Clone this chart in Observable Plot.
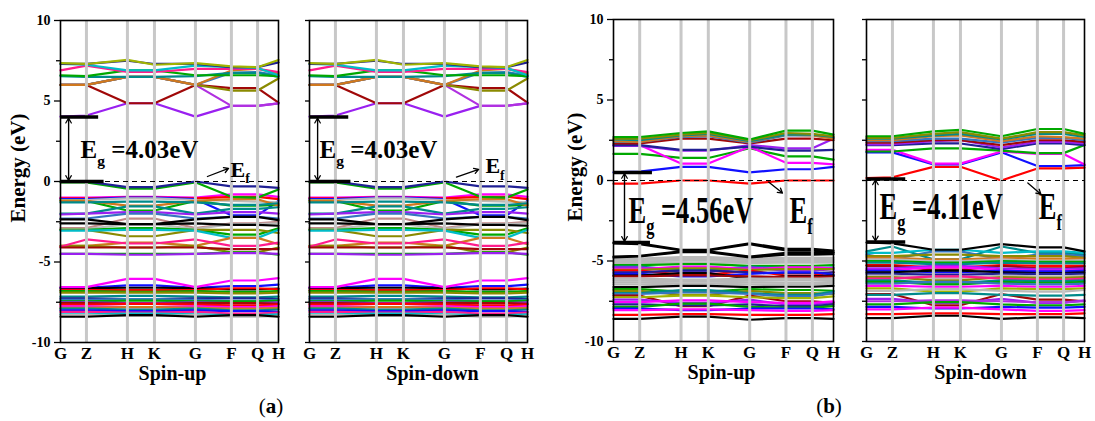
<!DOCTYPE html>
<html><head><meta charset="utf-8">
<script src="https://cdn.jsdelivr.net/npm/d3@7"></script>
<script src="https://cdn.jsdelivr.net/npm/@observablehq/plot@0.6"></script>
<style>
body{margin:0;background:#fff;}
#fig{position:relative;width:1095px;height:421px;overflow:hidden;font-family:"Liberation Serif",serif;background:#fff;}
.panel{position:absolute;top:0;}
.tag{position:absolute;top:394px;font-size:21px;transform:translateX(-50%);font-family:"Liberation Serif",serif;}
.ylab{position:absolute;font-weight:bold;font-size:21px;white-space:nowrap;line-height:1;transform:translate(-50%,-50%) rotate(-90deg);font-family:"Liberation Serif",serif;}
</style></head><body>
<div id="fig"></div>
<script>
// k-path (fractional distance along path) and labels
const kPos = [0, 0.119, 0.307, 0.431, 0.619, 0.784, 0.904, 1];
const kLabels = ["G","Z","H","K","G","F","Q","H"];

// Origin-style colour keys
const palette = {K:"#000000",R:"#ff0000",G:"#00a800",B:"#1010ff",C:"#00bcc8",M:"#ff00ff",O:"#8a8a00",
  N:"#202094",P:"#9a20f0",W:"#a00808",D:"#008a8a",Y:"#3575c0",A:"#d0781e",V:"#b030e0",I:"#ff1c8c",
  S:"#b8b8b8",L:"#a0b400",E:"#c08888"};

// ---------- (a) energies at G Z H K G F Q H (eV); spin-up and spin-down identical ----------
const condA = [
 [4.03,4.1,4.86,4.86,4.03,4.7,4.7,4.85],
 [6.0,6.0,4.86,4.86,6.0,5.8,5.8,4.9],
 [6.0,6.0,6.5,6.5,6.0,4.7,4.7,4.85],
 [6.0,6.0,6.5,6.5,6.0,5.65,5.65,6.4],
 [6.0,6.0,6.5,6.5,6.0,6.75,6.8,6.6],
 [6.0,6.0,6.5,6.5,6.0,6.9,7.0,6.7],
 [6.55,6.5,6.5,6.5,6.55,6.75,6.75,6.5],
 [6.6,6.55,6.9,6.9,6.6,6.6,6.6,6.55],
 [6.9,7.2,6.8,6.8,7.0,7.0,7.0,6.8],
 [7.3,7.25,6.9,6.9,7.2,7.1,7.05,6.6],
 [7.3,7.3,7.5,7.3,7.3,7.1,7.1,7.4],
 [7.35,7.3,7.55,7.25,7.35,7.15,7.1,7.55]
];
const condAColors = ["P","W","V","O","Y","A","D","G","I","C","N","L"];

const valA = [
 [-1.0,-1.0,-0.95,-0.95,-1.0,-0.8,-0.8,-0.95],
 [-1.05,-1.05,-1.0,-1.0,-1.05,-0.95,-0.95,-1.1],
 [-1.1,-1.1,-1.0,-1.0,-1.1,-2.1,-2.1,-1.2],
 [-1.15,-1.15,-1.05,-1.05,-1.15,-1.2,-1.25,-1.3],
 [-1.2,-1.2,-1.8,-1.8,-1.2,-1.5,-1.5,-1.45],
 [-1.2,-1.2,-1.5,-1.5,-1.2,-1.1,-1.1,-1.5],
 [-1.3,-1.3,-1.25,-1.25,-1.3,-1.45,-1.45,-1.35],
 [-2.0,-2.0,-1.55,-1.55,-2.0,-1.7,-1.7,-1.6],
 [-2.05,-2.0,-1.9,-1.9,-2.05,-1.9,-1.9,-2.0],
 [-2.3,-2.3,-2.0,-2.0,-2.3,-2.2,-2.2,-2.3],
 [-2.9,-2.9,-2.3,-2.3,-2.9,-2.6,-2.6,-2.5],
 [-2.95,-2.95,-2.65,-2.65,-2.95,-2.65,-2.65,-2.6],
 [-2.6,-2.6,-2.65,-2.65,-2.6,-2.7,-2.7,-2.75],
 [-2.35,-2.35,-2.65,-2.65,-2.35,-2.2,-2.2,-2.4],
 [-3.0,-3.0,-2.9,-2.9,-3.0,-3.3,-3.3,-2.9],
 [-3.0,-3.0,-3.4,-3.4,-3.0,-3.0,-3.0,-3.2],
 [-3.05,-3.05,-3.0,-3.0,-3.05,-3.5,-3.5,-3.0],
 [-4.0,-4.0,-3.8,-3.8,-4.0,-3.5,-3.5,-3.9],
 [-4.0,-4.0,-4.1,-4.1,-4.0,-4.4,-4.4,-4.1],
 [-4.05,-3.6,-3.85,-3.85,-3.6,-4.0,-4.0,-3.8],
 [-4.1,-4.1,-4.1,-4.1,-4.1,-4.2,-4.2,-4.2],
 [-4.5,-4.5,-4.5,-4.5,-4.5,-4.4,-4.4,-4.55],
 [-4.5,-4.5,-4.55,-4.55,-4.5,-4.45,-4.45,-4.5],
 [-0.05,-0.05,-0.45,-0.45,-0.05,-0.95,-1.0,-0.5],
 [0,0,-0.35,-0.35,0,-0.3,-0.3,-0.4]
];
const valAColors = ["M","R","B","S","G","A","D","D","P","Y","E","S","K","K","G","O","C","A","O","I","W","G","P","G","N"];

const deepA = [
 [-6.6,-6.6,-6.45,-6.45,-6.6,-6.5,-6.5,-6.4],
 [-6.62,-6.62,-6.6,-6.6,-6.62,-6.7,-6.7,-6.65],
 [-6.75,-6.75,-6.75,-6.75,-6.75,-6.63,-6.63,-6.7],
 [-6.8,-6.8,-6.85,-6.85,-6.8,-6.85,-6.85,-6.8],
 [-6.9,-6.9,-6.9,-6.9,-6.9,-6.95,-6.95,-6.9],
 [-7.15,-7.15,-7.1,-7.1,-7.15,-7.2,-7.2,-7.15],
 [-7.25,-7.25,-7.3,-7.3,-7.25,-7.25,-7.25,-7.3],
 [-7.35,-7.35,-7.3,-7.3,-7.35,-7.4,-7.4,-7.35],
 [-7.45,-7.45,-7.4,-7.4,-7.45,-7.45,-7.45,-7.4],
 [-7.5,-7.5,-7.55,-7.55,-7.5,-7.55,-7.55,-7.5],
 [-7.55,-7.55,-7.6,-7.6,-7.55,-7.55,-7.55,-7.6],
 [-7.65,-7.65,-7.6,-7.6,-7.65,-7.7,-7.7,-7.65],
 [-7.75,-7.75,-7.8,-7.8,-7.75,-7.8,-7.8,-7.75],
 [-7.85,-7.85,-7.8,-7.8,-7.85,-7.9,-7.9,-7.85],
 [-7.9,-7.9,-7.95,-7.95,-7.9,-8.0,-8.0,-7.95],
 [-8.0,-8.0,-8.05,-8.05,-8.0,-8.05,-8.05,-8.1],
 [-8.1,-8.1,-8.15,-8.15,-8.1,-8.2,-8.2,-8.15],
 [-8.25,-8.25,-8.2,-8.2,-8.25,-8.3,-8.3,-8.25],
 [-8.3,-8.3,-8.35,-8.35,-8.3,-8.4,-8.4,-8.35],
 [-8.4,-8.4,-8.3,-8.3,-8.4,-8.3,-8.3,-8.4],
 [-6.56,-6.56,-6.05,-6.05,-6.56,-6.15,-6.15,-6.0]
];
const deepAColors = ["B","K","R","G","O","D","N","Y","G","P","W","R","M","A","D","B","I","C","S","K","M"];

// ---------- (b) spin-up ----------
const condBU = [
 [-0.2,-0.2,0.0,0.0,-0.2,0.0,0.0,0.0],
 [0.5,0.55,0.85,0.85,0.5,0.7,0.7,0.85],
 [1.65,1.65,1.4,1.4,2.0,1.5,1.5,1.3],
 [2.2,2.2,1.05,1.05,2.1,1.1,1.1,1.0],
 [2.15,2.15,1.85,1.85,2.2,2.0,2.0,2.6],
 [2.2,2.2,1.9,1.9,2.1,1.85,1.85,1.9],
 [2.3,2.3,2.6,2.6,2.3,2.6,2.6,2.5],
 [2.4,2.4,2.7,2.75,2.35,2.8,2.8,2.65],
 [2.45,2.4,2.75,2.8,2.4,2.85,2.8,2.6],
 [2.55,2.5,2.8,2.9,2.45,2.85,2.85,2.7],
 [2.6,2.6,2.85,2.95,2.5,2.95,2.9,2.75],
 [2.7,2.7,2.95,3.05,2.55,3.1,3.1,2.85]
];
const condBUColors = ["R","B","G","M","P","N","W","Y","A","D","O","G"];

const valBU = [
 [-4.85,-4.85,-4.75,-4.75,-4.85,-4.8,-4.8,-4.8],
 [-4.95,-4.95,-4.85,-4.85,-4.95,-4.9,-4.9,-4.9],
 [-5.05,-5.05,-4.95,-4.95,-5.05,-5.0,-5.0,-5.0],
 [-5.12,-5.12,-5.08,-5.08,-5.12,-5.1,-5.1,-5.1],
 [-5.25,-5.25,-5.2,-5.2,-5.3,-5.3,-5.3,-5.25],
 [-5.35,-5.35,-5.55,-5.55,-5.35,-5.45,-5.45,-5.4],
 [-5.4,-5.4,-5.7,-5.7,-5.4,-5.6,-5.6,-5.5],
 [-5.5,-5.5,-5.35,-5.35,-5.5,-5.4,-5.4,-5.45],
 [-5.55,-5.55,-5.45,-5.45,-5.55,-5.5,-5.5,-5.5],
 [-5.6,-5.6,-5.85,-5.85,-5.6,-5.9,-5.9,-5.7],
 [-5.7,-5.7,-5.6,-5.6,-5.7,-5.75,-5.75,-5.7],
 [-5.8,-5.8,-5.95,-5.95,-5.8,-5.7,-5.7,-5.85],
 [-5.9,-5.9,-5.75,-5.75,-6.1,-5.95,-5.95,-5.9],
 [-5.95,-5.95,-5.9,-5.9,-5.95,-6.0,-6.0,-5.95],
 [-6.1,-6.1,-6.15,-6.15,-6.1,-6.1,-6.1,-6.1],
 [-6.2,-6.2,-6.22,-6.22,-6.2,-6.2,-6.2,-6.2],
 [-6.32,-6.32,-6.28,-6.28,-6.32,-6.35,-6.35,-6.3],
 [-6.45,-6.45,-6.4,-6.4,-6.45,-6.45,-6.45,-6.4],
 [-6.62,-6.62,-6.55,-6.55,-6.62,-6.6,-6.6,-6.55],
 [-6.75,-6.75,-6.9,-6.9,-6.75,-6.8,-6.8,-6.85],
 [-6.85,-6.85,-7.1,-7.1,-6.85,-7.0,-7.0,-7.05],
 [-7.0,-7.0,-6.8,-6.8,-7.0,-7.1,-7.1,-6.9],
 [-7.05,-7.05,-6.95,-6.95,-7.05,-7.2,-7.2,-7.0],
 [-7.15,-7.15,-7.8,-7.8,-7.15,-7.5,-7.5,-7.6],
 [-7.25,-7.25,-7.15,-7.15,-7.25,-7.3,-7.3,-7.2],
 [-7.4,-7.4,-7.6,-7.6,-7.4,-7.7,-7.7,-7.55],
 [-7.55,-7.55,-7.45,-7.45,-7.55,-7.6,-7.6,-7.5],
 [-7.7,-7.7,-7.75,-7.75,-7.7,-7.8,-7.8,-7.7],
 [-7.85,-7.85,-7.65,-7.65,-7.85,-7.9,-7.9,-7.8],
 [-7.95,-7.95,-8.05,-8.05,-7.95,-7.95,-7.95,-8.0],
 [-8.05,-8.05,-8.0,-8.0,-8.05,-8.1,-8.1,-8.05],
 [-8.35,-8.35,-8.3,-8.3,-8.35,-8.35,-8.35,-8.3],
 [-8.6,-8.6,-8.45,-8.45,-8.65,-8.55,-8.55,-8.6],
 [-3.85,-3.9,-4.3,-4.3,-3.9,-4.25,-4.25,-4.35],
 [-3.9,-3.95,-4.35,-4.35,-3.95,-4.35,-4.35,-4.45],
 [-4.72,-4.68,-4.4,-4.4,-4.72,-4.5,-4.5,-4.5],
 [-4.78,-4.72,-4.45,-4.45,-4.78,-4.6,-4.6,-4.58]
];
const valBUColors = ["S","S","S","S","G","D","P","M","O","R","N","B","K","W","S","S","S","S","K",
  "G","O","D","Y","W","L","P","M","N","G","B","M","R","K","K","K","K","K"];

// ---------- (b) spin-down ----------
const condBD = [
 [0.15,0.2,0.85,0.85,0.0,0.75,0.75,0.8],
 [1.75,1.75,1.0,1.0,1.75,0.9,0.9,0.95],
 [1.9,1.9,1.05,1.05,1.8,1.65,1.65,1.0],
 [1.8,1.8,2.0,2.0,1.85,1.7,1.7,2.2],
 [2.2,2.2,2.3,2.3,1.95,2.3,2.3,2.2],
 [2.25,2.25,2.45,2.5,2.05,2.4,2.4,2.3],
 [2.35,2.35,2.5,2.5,2.2,2.5,2.5,2.4],
 [2.45,2.45,2.6,2.6,2.35,2.65,2.65,2.5],
 [2.5,2.5,2.75,2.8,2.45,2.75,2.7,2.6],
 [2.6,2.6,2.8,2.9,2.55,2.9,2.9,2.7],
 [2.65,2.65,2.9,3.0,2.6,3.0,3.0,2.8],
 [2.75,2.75,3.05,3.15,2.75,3.2,3.2,2.9]
];
const condBDColors = ["R","B","M","G","N","P","W","Y","A","D","O","G"];

const valBD = [
 [-4.4,-4.1,-4.9,-4.9,-4.1,-4.5,-4.5,-4.6],
 [-4.5,-4.5,-4.3,-4.3,-4.5,-4.4,-4.4,-4.5],
 [-4.6,-4.9,-4.4,-4.4,-4.9,-4.6,-4.6,-4.7],
 [-4.7,-4.7,-4.6,-4.6,-4.7,-4.7,-4.7,-4.8],
 [-4.8,-4.8,-4.9,-4.9,-4.8,-4.85,-4.85,-4.85],
 [-4.9,-4.9,-5.0,-5.0,-4.9,-5.0,-5.0,-4.95],
 [-5.0,-5.0,-5.1,-5.1,-5.0,-5.05,-5.05,-5.05],
 [-5.1,-5.1,-5.2,-5.2,-5.1,-5.15,-5.15,-5.15],
 [-5.25,-5.25,-5.4,-5.4,-5.25,-5.3,-5.3,-5.3],
 [-5.3,-5.3,-5.55,-5.55,-5.3,-5.45,-5.45,-5.35],
 [-5.45,-5.45,-5.3,-5.3,-5.45,-5.5,-5.5,-5.45],
 [-5.55,-5.55,-5.4,-5.4,-5.55,-5.6,-5.6,-5.55],
 [-5.6,-5.6,-5.7,-5.7,-5.6,-5.65,-5.65,-5.6],
 [-5.7,-5.7,-5.6,-5.6,-5.7,-5.75,-5.75,-5.7],
 [-5.8,-5.8,-5.85,-5.85,-5.8,-5.8,-5.8,-5.8],
 [-5.9,-5.9,-6.05,-6.05,-5.9,-5.95,-5.95,-5.9],
 [-6.0,-6.0,-6.2,-6.2,-6.0,-6.05,-6.05,-6.0],
 [-6.1,-6.1,-5.95,-5.95,-6.1,-6.15,-6.15,-6.1],
 [-6.2,-6.2,-6.35,-6.35,-6.2,-6.25,-6.25,-6.2],
 [-6.3,-6.3,-6.45,-6.45,-6.3,-6.35,-6.35,-6.3],
 [-6.4,-6.4,-6.3,-6.3,-6.4,-6.45,-6.45,-6.4],
 [-6.55,-6.55,-6.6,-6.6,-6.55,-6.6,-6.6,-6.55],
 [-6.7,-6.7,-6.9,-6.9,-6.7,-6.75,-6.75,-6.7],
 [-6.85,-6.85,-6.75,-6.75,-6.85,-6.9,-6.9,-6.8],
 [-7.05,-7.05,-7.75,-7.75,-7.05,-7.4,-7.4,-7.5],
 [-7.1,-7.1,-7.0,-7.0,-7.1,-7.15,-7.15,-7.1],
 [-7.35,-7.35,-7.6,-7.6,-7.35,-7.6,-7.6,-7.45],
 [-7.5,-7.5,-7.45,-7.45,-7.5,-7.55,-7.55,-7.5],
 [-7.7,-7.7,-7.55,-7.55,-7.7,-7.75,-7.75,-7.7],
 [-7.85,-7.85,-7.95,-7.95,-7.85,-7.9,-7.9,-7.85],
 [-8.0,-8.0,-7.9,-7.9,-8.0,-8.1,-8.1,-8.05],
 [-8.3,-8.3,-8.25,-8.25,-8.3,-8.3,-8.3,-8.25],
 [-8.55,-8.55,-8.4,-8.4,-8.6,-8.5,-8.5,-8.55],
 [-3.85,-3.9,-4.3,-4.3,-3.95,-4.15,-4.15,-4.4]
];
const valBDColors = ["D","C","Y","O","A","S","G","D","R","W","P","M","B","K","N","S","O","I","D","G","Y","M",
  "L","S","W","D","P","V","G","B","M","R","K","K"];

// gap annotations (band-edge markers, eV)
const gapAUp = {cbm: 4.0, vbm: 0, label: "E_g =4.03eV"};
const gapADown = {cbm: 4.0, vbm: 0, label: "E_g =4.03eV"};
const gapBUp = {cbm: 0.5, vbm: -3.85, label: "E_g =4.56eV"};
const gapBDown = {cbm: 0.1, vbm: -3.82, label: "E_g =4.11eV"};
const yTicksMajor = [-10, -5, 0, 5, 10];
const yTicksMinor = [-7.5, -2.5, 2.5, 7.5];

const panels = [
 {left:0, width:290, mL:60, mR:12, mT:20, mB:58, yLabels:true, yLabelX:18, spin:"Spin-up", spinDx:3,
  groups:[[deepA,deepAColors],[valA,valAColors],[condA,condAColors]], gap:gapAUp, stretch:1,
  L:{barTop:0.175, barBot:0.2, arrowX:0.037, egX:0.092, egY:1.45, egSize:25, efX:0.78, efY:0.3, efSize:22, efArrow:[0.674,0.31,0.771,0.81]}},
 {left:297, width:242, mL:12, mR:12, mT:20, mB:58, yLabels:false, spin:"Spin-down", spinDx:14,
  groups:[[deepA,deepAColors],[valA,valAColors],[condA,condAColors]], gap:gapADown, stretch:1,
  L:{barTop:0.18, barBot:0.19, arrowX:0.037, egX:0.046, egY:1.45, egSize:25, efX:0.807, efY:0.5, efSize:22, efArrow:[0.674,0.27,0.776,0.75]}},
 {left:553, width:292, mL:60, mR:12, mT:19, mB:59, yLabels:true, yLabelX:575, spin:"Spin-up", spinDx:-2,
  groups:[[valBU,valBUColors],[condBU,condBUColors]], gap:gapBUp, stretch:1.4,
  L:{barTop:0.177, barBot:0.168, arrowX:0.05, egX:0.068, egY:-2.65, egSize:26.5, efX:0.8, efY:-2.65, efSize:26.5, efArrow:[0.705,-0.1,0.768,-0.78]}},
 {left:854, width:241, mL:12, mR:11, mT:19, mB:59, yLabels:false, spin:"Spin-down", spinDx:5,
  groups:[[valBD,valBDColors],[condBD,condBDColors]], gap:gapBDown, stretch:1.4,
  L:{barTop:0.18, barBot:0.18, arrowX:0.041, egX:0.06, egY:-2.4, egSize:26.5, efX:0.79, efY:-2.4, efSize:26.5, efArrow:[0.74,-0.15,0.8,-0.85]}}
];

const fig = document.getElementById("fig");

function subscripts(svg, stretch) {
  d3.select(svg).selectAll("text").each(function() {
    const s = this.textContent;
    const i = s.indexOf("_");
    if (i < 0) return;
    const fs = parseFloat(this.parentNode.getAttribute("font-size")) || 24;
    const el = d3.select(this);
    el.text(null);
    el.append("tspan").text(s.slice(0, i));
    el.append("tspan").attr("font-size", fs * 0.62).attr("dy", fs * 0.3).text(s[i + 1]);
    const tail = s.slice(i + 2);
    if (tail) el.append("tspan").attr("dy", -fs * 0.3).text(tail);
    if (stretch !== 1) {
      const t = el.attr("transform") || "";
      el.attr("transform", t + ` scale(1,${stretch})`);
    }
  });
}

panels.forEach(p => {
  const rows = [];
  p.groups.forEach(([bands, cols], g) => bands.forEach((b, j) => b.forEach((e, i) =>
    rows.push({band: g * 100 + j, k: kPos[i], e, c: palette[cols[j]]}))));
  const L = p.L, gap = p.gap;
  const marks = [
    Plot.line(rows, {x: "k", y: "e", z: "band", stroke: "c", strokeWidth: 2.2, strokeLinejoin: "round"}),
    Plot.ruleX(kPos.slice(1, -1), {stroke: "#c8c8c8", strokeWidth: 3}),
    Plot.ruleY([0], {stroke: "#000", strokeWidth: 1.2, strokeDasharray: "5,4"}),
    Plot.ruleY([gap.cbm], {x1: 0, x2: L.barTop, stroke: "#000", strokeWidth: 3.5}),
    Plot.ruleY([gap.vbm], {x1: 0, x2: L.barBot, stroke: "#000", strokeWidth: 3.5}),
    Plot.arrow([gap], {x1: L.arrowX, x2: L.arrowX, y1: "cbm", y2: "vbm", headLength: 7, strokeWidth: 1.2, insetEnd: 1}),
    Plot.arrow([gap], {x1: L.arrowX, x2: L.arrowX, y1: "vbm", y2: "cbm", headLength: 7, strokeWidth: 1.2, insetEnd: 1}),
    Plot.arrow([gap], {x1: L.efArrow[0], y1: L.efArrow[1], x2: L.efArrow[2], y2: L.efArrow[3], headLength: 6, strokeWidth: 1.3}),
    Plot.text([gap.label], {x: L.egX, y: L.egY, text: d => d, textAnchor: "start", lineAnchor: "bottom", fontSize: L.egSize, fontWeight: "bold"}),
    Plot.text(["E_f"], {x: L.efX, y: L.efY, text: d => d, textAnchor: "start", lineAnchor: "bottom", fontSize: L.efSize, fontWeight: "bold"}),
    Plot.frame({stroke: "#000", strokeWidth: 1.6}),
    Plot.axisX({ticks: kPos, tickFormat: d => kLabels[kPos.indexOf(d)], tickSize: 0, tickPadding: 4, fontSize: 17, fontWeight: "bold", label: null}),
    Plot.text([p.spin], {frameAnchor: "bottom", dy: 37, dx: p.spinDx, fontSize: 20, fontWeight: "bold", text: d => d}),
  ];
  if (p.yLabels) {
    marks.push(
      Plot.axisY({ticks: yTicksMajor, tickSize: 6, tickPadding: 4, tickFormat: d => String(d), fontSize: 14, fontWeight: "bold", label: null, strokeWidth: 1.3}),
      Plot.axisY({ticks: yTicksMinor, tickSize: 4, tickFormat: () => "", label: null, strokeWidth: 1.3})
    );
  } else {
    marks.push(Plot.axisY({ticks: yTicksMajor.concat(yTicksMinor), tickSize: 4, tickFormat: () => "", label: null, strokeWidth: 1.3}));
  }
  const svg = Plot.plot({
    width: p.width, height: 400,
    marginLeft: p.mL, marginRight: p.mR, marginTop: p.mT, marginBottom: p.mB,
    x: {domain: [0, 1]}, y: {domain: [-10, 10]},
    style: {fontFamily: "'Liberation Serif', serif", fontWeight: "bold", background: "transparent", overflow: "visible"},
    marks
  });
  svg.classList.add("panel");
  svg.style.left = p.left + "px";
  fig.appendChild(svg);
  subscripts(svg, p.stretch);
  if (p.yLabels) {
    // y-axis title placed with the panel's own energy scale
    const lab = document.createElement("div");
    lab.className = "ylab";
    lab.textContent = "Energy (eV)";
    const ys = svg.scale("y");
    lab.style.left = p.yLabelX + "px";
    lab.style.top = ys.apply(0.8) + "px";
    fig.appendChild(lab);
  }
});

const tags = [["a", 271], ["b", 829]];
tags.forEach(([t, x]) => {
  const d = document.createElement("div");
  d.className = "tag";
  d.style.left = x + "px";
  d.innerHTML = "(<b>" + t + "</b>)";
  fig.appendChild(d);
});
</script></body></html>
